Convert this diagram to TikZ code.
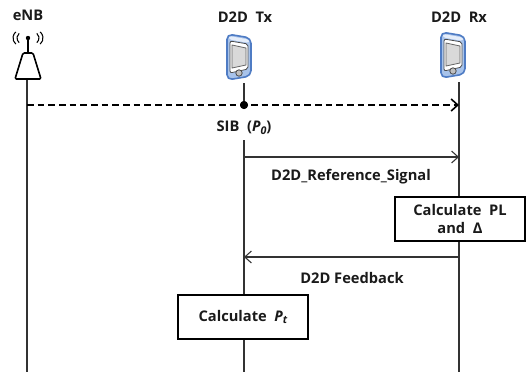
\documentclass[tikz,border=0pt]{standalone}
\usepackage{fontspec}
\setmainfont{Open Sans}
\usetikzlibrary{arrows.meta}
\definecolor{txt}{HTML}{1A1A1A}
\definecolor{ln}{HTML}{333333}
\definecolor{phfill}{HTML}{A8C3EA}
\definecolor{phdraw}{HTML}{4F7CC4}
\tikzset{
  lbl/.style={font=\fontsize{11}{13}\selectfont\bfseries, text=txt, inner sep=0pt, align=center},
  life/.style={draw=ln, line width=0.8pt},
  msg/.style={draw=ln, line width=0.8pt, -{Straight Barb[length=5pt,width=9pt,line width=0.8pt]}},
  dasharrow/.style={draw=black, line width=1.6pt, dash pattern=on 5pt off 3pt, -{Straight Barb[length=5pt,width=9pt,line width=1.2pt]}},
  calcbox/.style={draw=black, line width=1.3pt, fill=white, minimum width=97pt, minimum height=33pt, align=center, inner sep=1pt, font=\fontsize{11}{14}\selectfont\bfseries, text=txt},
  blackdot/.style={circle, fill=black, inner sep=0pt, minimum size=6pt},
  phone/.pic={
    \draw[fill=phfill, draw=phdraw, line width=1.2pt, rounded corners=4pt] (-12,-22) -- (12,-18) -- (12,20) -- (-12,24) -- cycle;
    \fill[white!70!phfill, rounded corners=2pt] (-10,-20) -- (10,-16.5) -- (10,-13) -- (-10,-16.5) -- cycle;
    \draw[fill=white, draw=black!70, line width=0.6pt, rounded corners=1.5pt] (-9,-15) -- (9,-12) -- (9,13) -- (-9,17) -- cycle;
    \fill[black!15] (-7,-11) -- (7,-8) -- (7,9) -- (-7,12) -- cycle;
    \draw[black!60, line width=0.6pt] (-7,-11) -- (7,-8) -- (7,9) -- (-7,12) -- cycle;
    \draw[fill=black!25, draw=black!70, line width=0.6pt] (0,17) circle (3.2);
  },
  enbicon/.pic={
    \draw[fill=white, draw=black, line width=1.2pt, rounded corners=1pt] (-5,-13) -- (5,-13) -- (13,13) -- (-13,13) -- cycle;
    \draw[black, line width=1.2pt] (0,-13) -- (0,-28);
    \fill[black] (0,-28) circle (2.2);
    \draw[black, line width=0.8pt] (-5,-28) ++(130:6) arc (130:230:6);
    \draw[black, line width=0.8pt] (-7,-28) ++(130:8) arc (130:230:8);
    \draw[black, line width=0.8pt] (5,-28) ++(50:6) arc (50:-50:6);
    \draw[black, line width=0.8pt] (7,-28) ++(50:8) arc (50:-50:8);
  }
}
\begin{document}
\begin{tikzpicture}[x=0.75pt,y=-0.75pt]
\useasboundingbox (0,0) rectangle (526,372);
% headers
\node[lbl] (enb) at (28,15) {eNB};
\node[lbl] (tx) at (245,17) {D2D\ \ Tx};
\node[lbl] (rx) at (459,17) {D2D\ \ Rx};
% icons
\pic at (28,66) {enbicon};
\pic at (239,56) {phone};
\pic at (453,54) {phone};
% lifeline coordinates
\coordinate (e0) at (27,80);
\coordinate (e1) at (27,372);
\coordinate (t0) at (244,83);
\coordinate (t1) at (244,140);
\coordinate (t2) at (244,372);
\coordinate (r0) at (459,82);
\coordinate (r1) at (459,372);
\coordinate (eb) at (27,105);
\coordinate (rb) at (459,105);
\coordinate (a2s) at (244,157);
\coordinate (a2e) at (459,157);
\coordinate (a3s) at (459,257);
\coordinate (a3e) at (244,257);
% lifelines
\node[blackdot] (td) at (244,105) {};
\draw[life] (e0) -- (e1);
\draw[life] (t0) -- (td);
\draw[life] (t1) -- (t2);
\draw[life] (r0) -- (r1);
% messages
\draw[dasharrow] (eb) -- (rb);
\node[blackdot] at (td) {};
\node[lbl] (sib) at (244,128) {SIB\ \ ({\itshape P\raisebox{-0.35ex}{\fontsize{8}{9}\selectfont 0}})};
\draw[msg] (a2s) -- (a2e);
\node[lbl] (refsig) at (351,177) {D2D\_Reference\_Signal};
\node[calcbox] (pl) at (460,219) {Calculate\ \ PL\\and\ \ Δ};
\draw[msg] (a3s) -- (a3e);
\node[lbl] (fb) at (352,278) {D2D Feedback};
\node[calcbox] (pt) at (243,317) {Calculate\ \ {\itshape P\raisebox{-0.35ex}{\fontsize{8}{9}\selectfont t}}};
\end{tikzpicture}
\end{document}
